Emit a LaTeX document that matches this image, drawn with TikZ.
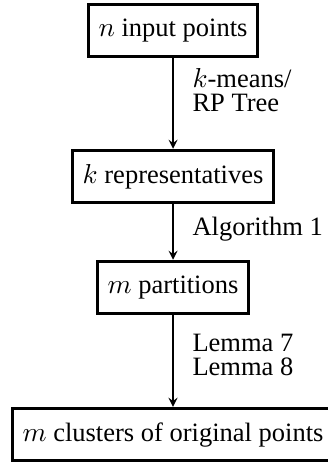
\documentclass[tikz,border=0pt]{standalone}
\usepackage{fontspec}
\setmainfont{Liberation Serif}
\usetikzlibrary{arrows,calc}

\begin{document}
\begin{tikzpicture}[>=stealth, font=\fontsize{10.6}{9.6}\selectfont]
	\tikzset{stage/.style={draw, line width=1.2pt, inner xsep=4pt, minimum height=21pt}}
	\tikzset{via/.style={right, align=left, inner sep=0pt}}

	\useasboundingbox (-2.432,0.429) rectangle (2.165,-6.093);

	\coordinate (spine) at (0,0);

	\node (input) [stage] at (0,0) {$n$ input points};
	\node (reps) [stage] at (0,-2.052) {$k$ representatives};
	\node (parts) [stage] at (0,-3.612) {$m$ partitions};
	\node (clusters) [stage] at (0,-5.679) {$m$ clusters of original points};

	\draw[->, line width=0.6pt] (input) -- (reps);
	\draw[->, line width=0.6pt] (reps) -- (parts);
	\draw[->, line width=0.6pt] (parts) -- (clusters);

	\node (kmeans) [via] at (0.267,-0.84) {$k$-means/\\RP Tree};
	\node (algo) [via] at (0.267,-2.79) {Algorithm 1};
	\node (lemmas) [via] at (0.267,-4.56) {Lemma 7\\Lemma 8};
\end{tikzpicture}
\end{document}
